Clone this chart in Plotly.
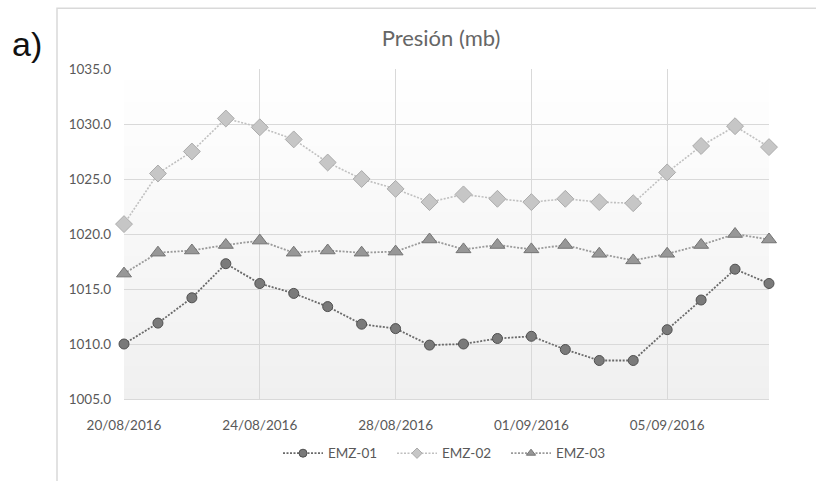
import plotly.graph_objects as go
import pandas as pd

dates = pd.date_range("2016-08-20", "2016-09-08", freq="D")
emz01 = [1010.0, 1011.9, 1014.2, 1017.3, 1015.5, 1014.6, 1013.4, 1011.8, 1011.4, 1009.9,
         1010.0, 1010.5, 1010.7, 1009.5, 1008.5, 1008.5, 1011.3, 1014.0, 1016.8, 1015.5]
emz02 = [1020.9, 1025.5, 1027.5, 1030.5, 1029.7, 1028.6, 1026.5, 1025.0, 1024.1, 1022.9,
         1023.6, 1023.2, 1022.9, 1023.2, 1022.9, 1022.8, 1025.6, 1028.0, 1029.8, 1027.9]
emz03 = [1016.4, 1018.3, 1018.5, 1019.0, 1019.4, 1018.3, 1018.5, 1018.3, 1018.4, 1019.5,
         1018.6, 1019.0, 1018.6, 1019.0, 1018.2, 1017.6, 1018.2, 1019.0, 1020.0, 1019.5]
series_names = ["EMZ-01", "EMZ-02", "EMZ-03"]
x_tick_vals = ["2016-08-20", "2016-08-24", "2016-08-28", "2016-09-01", "2016-09-05"]
x_tick_text = ["20/08/2016", "24/08/2016", "28/08/2016", "01/09/2016", "05/09/2016"]
y_ticks = [1005, 1010, 1015, 1020, 1025, 1030, 1035]

FONT = "Lato, Open Sans, sans-serif"
TXT = "#595959"

L, T, PW, PH = 124, 69, 645, 336.5
W, H = 816, 481


def px_x(x):
    return (x - L) / PW


def px_y(y):
    return (T + PH - y) / PH


fig = go.Figure()

styles = [
    dict(symbol="circle", size=10, lsize=8, fill="#7a7a7a", edge="#505050", line="#6a6a6a", lw=1.8),
    dict(symbol="diamond", size=13, lsize=8, fill="#c6c6c6", edge="#ababab", line="#c0c0c0", lw=1.6),
    dict(symbol="triangle-up", size=13, lsize=8, fill="#979797", edge="#747474", line="#9a9a9a", lw=1.8),
]
for name, vals, st in zip(series_names, [emz01, emz02, emz03], styles):
    fig.add_trace(go.Scatter(
        x=dates, y=vals, name=name, mode="lines+markers", cliponaxis=False,
        showlegend=False, legendgroup=name,
        line=dict(color=st["line"], width=st["lw"], dash="2px,1.5px"),
        marker=dict(symbol=st["symbol"], size=st["size"], color=st["fill"],
                    line=dict(color=st["edge"], width=1)),
    ))
# legend entries (smaller symbols as in the original legend)
for name, st in zip(series_names, styles):
    fig.add_trace(go.Scatter(
        x=[None], y=[None], name=name, mode="lines+markers", legendgroup=name,
        line=dict(color=st["line"], width=st["lw"], dash="2px,1.5px"),
        marker=dict(symbol=st["symbol"], size=st["lsize"], color=st["fill"],
                    line=dict(color=st["edge"], width=1)),
    ))

# background gradient bands in plot area
n = 30
shapes = []
for i in range(n):
    t = i / (n - 1)
    c = int(round(255 - t * 15))
    shapes.append(dict(type="rect", xref="x domain", yref="y domain",
                       x0=0, x1=1, y0=1 - (i + 1) / n, y1=1 - i / n,
                       fillcolor=f"rgb({c},{c},{c})", line=dict(width=0), layer="below"))
# outer chart border
shapes.append(dict(type="rect", xref="paper", yref="paper",
                   x0=px_x(57), x1=px_x(830), y0=px_y(500), y1=px_y(7),
                   line=dict(color="#d9d9d9", width=1.5), fillcolor="rgba(0,0,0,0)", layer="below"))

fig.update_layout(
    width=W, height=H,
    margin=dict(l=L, r=W - L - PW, t=T, b=H - T - PH),
    paper_bgcolor="white", plot_bgcolor="rgba(0,0,0,0)",
    shapes=shapes,
    title=dict(text="Presión (mb)", x=px_x(441), xref="paper", xanchor="center",
               y=1 - 38 / H, yanchor="middle",
               font=dict(family=FONT, size=22, color="#666666")),
    annotations=[dict(text="a)", xref="paper", yref="paper", x=px_x(27), y=px_y(44),
                      xanchor="center", yanchor="middle", showarrow=False,
                      font=dict(family="Liberation Sans, Arial, sans-serif", size=34, color="#111111"))],
    legend=dict(orientation="h", x=px_x(278), xanchor="left", y=px_y(461), yanchor="middle",
                font=dict(family=FONT, size=13.5, color=TXT), itemwidth=40,
                entrywidth=59, bgcolor="rgba(0,0,0,0)"),
    showlegend=True,
)
fig.update_xaxes(type="date", range=["2016-08-20", "2016-09-08"],
                 tickvals=x_tick_vals, ticktext=x_tick_text,
                 showgrid=True, gridcolor="#d9d9d9", gridwidth=1,
                 showline=True, linecolor="#d9d9d9", linewidth=1,
                 ticks="", ticklabelstandoff=14,
                 tickfont=dict(family=FONT, size=13.5, color=TXT),
                 zeroline=False, automargin=False)
fig.update_yaxes(range=[1005, 1035], tickvals=y_ticks,
                 ticktext=[f"{v:.1f}" for v in y_ticks],
                 showgrid=True, gridcolor="#d9d9d9", gridwidth=1,
                 showline=False, ticks="", ticklabelstandoff=12,
                 tickfont=dict(family=FONT, size=13.5, color=TXT), zeroline=False,
                 automargin=False)

fig.write_html("out.html", config={"displayModeBar": False},
               post_script="document.body.style.margin='0';document.body.style.padding='0';")
